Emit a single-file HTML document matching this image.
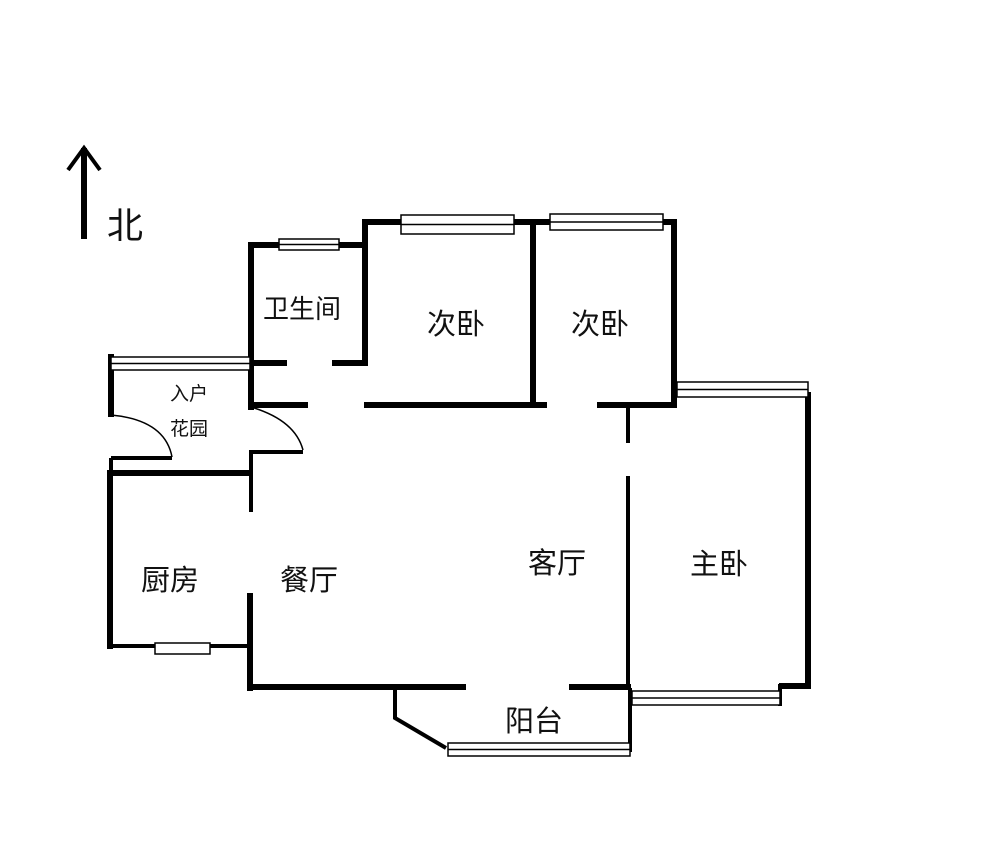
<!DOCTYPE html>
<html><head><meta charset="utf-8"><style>
html,body{margin:0;padding:0;background:#fff;}
svg{display:block;}
text{font-family:"Liberation Sans","Noto Sans CJK SC",sans-serif;fill:#111;}
</style></head><body>
<svg width="1000" height="849" viewBox="0 0 1000 849" xmlns="http://www.w3.org/2000/svg">
<rect width="1000" height="849" fill="#fff"/>
<!-- north arrow -->
<line x1="84" y1="148" x2="84" y2="239" stroke="#000" stroke-width="6"/>
<polyline points="68,170 84,148 100,170" fill="none" stroke="#000" stroke-width="4"/>
<text x="107" y="238" font-size="36">北</text>

<g stroke="#000" stroke-width="6" fill="none" stroke-linecap="square">
<!-- bathroom -->
<line x1="251" y1="245" x2="251" y2="407"/>
<line x1="251" y1="245" x2="365" y2="245"/>
<line x1="251" y1="363" x2="284" y2="363"/>
<line x1="335" y1="363" x2="365" y2="363"/>
<line x1="365" y1="222" x2="365" y2="363"/>
<!-- bedroom 2 -->
<line x1="365" y1="222" x2="533" y2="222"/>
<line x1="533" y1="222" x2="533" y2="405"/>
<line x1="367" y1="405" x2="544" y2="405"/>
<line x1="251" y1="405" x2="305" y2="405"/>
<!-- bedroom 3 -->
<line x1="533" y1="222" x2="674" y2="222"/>
<line x1="674" y1="222" x2="674" y2="405"/>
<line x1="600" y1="405" x2="674" y2="405"/>
<!-- partition living/master -->
<line x1="628" y1="405" x2="628" y2="441" stroke-width="4"/>
<line x1="628" y1="478" x2="628" y2="688" stroke-width="4"/>
<!-- master -->
<line x1="808" y1="395" x2="808" y2="686"/>
<line x1="782" y1="686" x2="808" y2="686"/>
<line x1="780" y1="686" x2="780" y2="704" stroke-width="4"/>
<!-- entry garden -->
<line x1="111" y1="357" x2="111" y2="414"/>
<line x1="110" y1="473" x2="249" y2="473"/>
<line x1="251" y1="452" x2="251" y2="510" stroke-width="4"/>
<!-- kitchen -->
<line x1="110" y1="473" x2="110" y2="646"/>
<line x1="110" y1="646" x2="250" y2="646" stroke-width="4"/>
<line x1="250" y1="596" x2="250" y2="688"/>
<!-- dining bottom -->
<line x1="250" y1="687" x2="463" y2="687"/>
<line x1="572" y1="687" x2="628" y2="687"/>
</g>
<!-- thin lines: entry bottom steps, balcony -->
<g stroke="#000" stroke-width="4" fill="none">
<polyline points="111,458 172,458"/>
<polyline points="251,452 303,452"/>
<polyline points="111,458 111,470"/>
<polyline points="395,688 395,718 446,748"/>
<line x1="630" y1="688" x2="630" y2="752"/>
</g>
<!-- door arcs -->
<g stroke="#000" stroke-width="1.5" fill="none">
<path d="M111,415 Q165,420 172,457"/>
<path d="M251,407 Q295,420 303,450"/>
</g>
<!-- windows -->
<g stroke="#000" stroke-width="1.5" fill="#fff">
<rect x="279" y="239" width="60" height="11"/>
<line x1="279" y1="244.5" x2="339" y2="244.5"/>
<rect x="401" y="215" width="113" height="19"/>
<line x1="401" y1="224.5" x2="514" y2="224.5"/>
<rect x="550" y="214" width="113" height="16"/>
<line x1="550" y1="222" x2="663" y2="222"/>
<rect x="111" y="357" width="139" height="13"/>
<line x1="111" y1="363.5" x2="250" y2="363.5"/>
<rect x="677" y="382" width="131" height="15"/>
<line x1="677" y1="389.5" x2="808" y2="389.5"/>
<rect x="155" y="643" width="55" height="11"/>
<rect x="632" y="691" width="148" height="14"/>
<line x1="632" y1="698" x2="780" y2="698"/>
<rect x="448" y="743" width="182" height="13"/>
<line x1="448" y1="749.5" x2="630" y2="749.5"/>
</g>

<text x="263" y="318" font-size="26">卫生间</text>
<text x="427" y="334" font-size="29">次卧</text>
<text x="571" y="334" font-size="29">次卧</text>
<text x="170" y="400" font-size="19">入户</text>
<text x="170" y="435" font-size="19">花园</text>
<text x="141" y="590" font-size="29">厨房</text>
<text x="280" y="590" font-size="29">餐厅</text>
<text x="528" y="573" font-size="29">客厅</text>
<text x="690" y="574" font-size="29">主卧</text>
<text x="505" y="731" font-size="29">阳台</text>
</svg>
</body></html>
